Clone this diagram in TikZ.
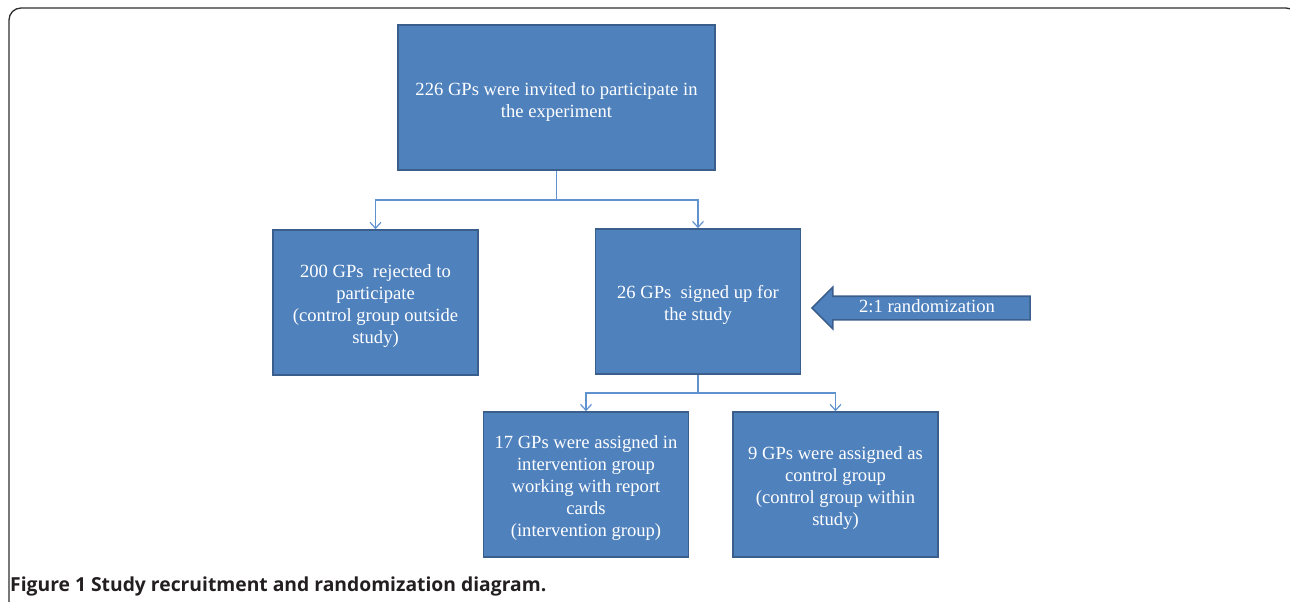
\documentclass[tikz,border=0pt]{standalone}
\usepackage{fontspec}
\setmainfont{Liberation Serif}
\newfontfamily\capfont{Open Sans}
\usetikzlibrary{positioning,shapes.arrows,arrows.meta}
\definecolor{boxfill}{HTML}{4F81BD}
\definecolor{boxline}{HTML}{3A5F8C}
\definecolor{linkblue}{HTML}{5E93D0}
\definecolor{framegray}{HTML}{2E2E2E}
\definecolor{captext}{HTML}{231F20}
\newcommand{\topgap}{\rule{0pt}{21pt}}

\begin{document}
\begin{tikzpicture}[x=1pt,y=-1pt,on grid,
    box/.style={draw=boxline,line width=1.6pt,fill=boxfill,text=white,align=center,
        minimum width=205pt,minimum height=145pt,
        font=\fontsize{18.6}{22}\selectfont},
    link/.style={draw=linkblue,line width=1.2pt,-{Straight Barb[length=6pt,width=11pt]}}]
            \useasboundingbox (0,0) rectangle (1290,602);
            \draw[framegray,line width=1.3pt,rounded corners=12pt] (9,640) -- (9,8) -- (1298,8) -- (1298,640);
            \node[box, minimum width=317pt] (invited) at (556.5,97.5)
                {\topgap226 GPs were invited to participate in\\the experiment};
            \node[box] (rejected) [below left=205pt and 181pt of invited]
                {\topgap200 GPs\ \ rejected to\\participate\\(control group outside\\study)};
            \node[box] (signed) [below right=204pt and 141.5pt of invited]
                {\topgap26 GPs\ \ signed up for\\the study};
            \node[box] (interv) [below left=183pt and 112pt of signed]
                {\topgap17 GPs were assigned in\\intervention group\\working with report\\cards\\(intervention group)};
            \node[box] (control) [below right=183pt and 137.5pt of signed]
                {\topgap9 GPs were assigned as\\control group\\(control group within\\study)};
            \node[single arrow, shape border rotate=180, draw=boxline, line width=1.6pt, fill=boxfill,
                text=white, font=\fontsize{18.6}{22}\selectfont, text height=12pt, text depth=4pt,
                inner ysep=3pt, single arrow head extend=9pt, minimum height=218pt] (ratio)
                at (927,308) {2:1 randomization};
            \coordinate (split1) at (556.5,200);
            \coordinate (split2) at (698,393);
            \draw[link] (invited) -- (split1) -| (rejected);
            \draw[link] (split1) -| (signed);
            \draw[link] (signed) -- (split2) -| (interv);
            \draw[link] (split2) -| (control);
            \node[anchor=base west, inner sep=0pt, text=captext] (caption) at (10,591)
                {\capfont\bfseries\fontsize{19.3}{21}\selectfont Figure 1 Study recruitment and randomization diagram.};
        \end{tikzpicture}
\end{document}
